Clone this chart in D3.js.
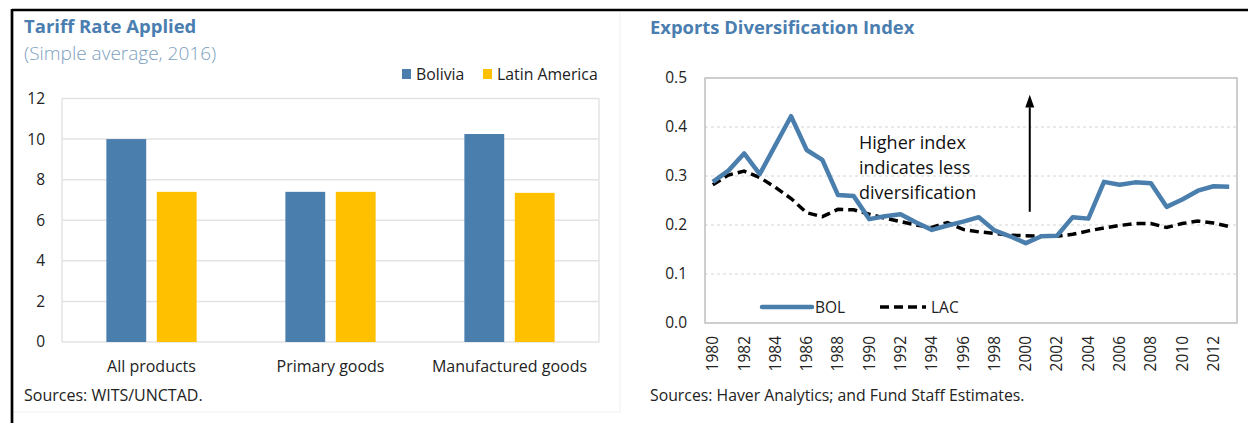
<!DOCTYPE html>
<html>
<head>
<meta charset="utf-8">
<script src="https://cdn.jsdelivr.net/npm/d3@7"></script>
<style>
  body { margin: 0; background: #fff; }
  text { font-family: "Open Sans", "Noto Sans", sans-serif; fill: #222; }
</style>
</head>
<body>
<script>
var width = 1248,
  height = 423;

// tariff chart data
var tariffCategories = ["All products", "Primary goods", "Manufactured goods"];
var tariffSeries = ["Bolivia", "Latin America"];
var boliviaTariff = [10.0, 7.4, 10.25];
var latamTariff = [7.4, 7.4, 7.35];
var tariffTicks = [0, 2, 4, 6, 8, 10, 12];

// diversification index data
var years = [1980, 1981, 1982, 1983, 1984, 1985, 1986, 1987, 1988, 1989,
  1990, 1991, 1992, 1993, 1994, 1995, 1996, 1997, 1998, 1999,
  2000, 2001, 2002, 2003, 2004, 2005, 2006, 2007, 2008, 2009,
  2010, 2011, 2012, 2013];
var bol = [0.288, 0.311, 0.346, 0.304, 0.363, 0.422, 0.353, 0.333, 0.261, 0.259,
  0.212, 0.218, 0.222, 0.205, 0.190, 0.199, 0.207, 0.216, 0.189, 0.177,
  0.163, 0.177, 0.178, 0.216, 0.213, 0.288, 0.282, 0.287, 0.285, 0.237,
  0.252, 0.270, 0.279, 0.278];
var lac = [0.282, 0.302, 0.310, 0.297, 0.277, 0.254, 0.225, 0.217, 0.232, 0.231,
  0.222, 0.214, 0.207, 0.200, 0.195, 0.205, 0.191, 0.186, 0.183, 0.179,
  0.178, 0.177, 0.177, 0.181, 0.188, 0.194, 0.199, 0.203, 0.203, 0.195,
  0.203, 0.208, 0.204, 0.197];
var indexTicks = [0, 0.1, 0.2, 0.3, 0.4, 0.5];
var yearTicks = [1980, 1982, 1984, 1986, 1988, 1990, 1992, 1994, 1996, 1998,
  2000, 2002, 2004, 2006, 2008, 2010, 2012];

var blue = "#4a7ead",
  yellow = "#ffc000",
  titleBlue = "#4a7eb0";

var svg = d3.select("body").append("svg")
  .attr("width", width)
  .attr("height", height);

// faint panel separators
svg.append("line").attr("x1", 620).attr("x2", 620).attr("y1", 12).attr("y2", 412)
  .attr("stroke", "#f0f0f0").attr("stroke-width", 1);
svg.append("line").attr("x1", 13).attr("x2", 620).attr("y1", 412).attr("y2", 412)
  .attr("stroke", "#f0f0f0").attr("stroke-width", 1);

// black frame (top + left)
svg.append("line").attr("x1", 12).attr("x2", width).attr("y1", 10).attr("y2", 10)
  .attr("stroke", "#000").attr("stroke-width", 2.7);
svg.append("line").attr("x1", 12).attr("x2", 12).attr("y1", 9).attr("y2", height)
  .attr("stroke", "#000").attr("stroke-width", 2.7);

// ---------- Left: Tariff Rate Applied ----------
var left = svg.append("g");

left.append("text")
  .attr("x", 24).attr("y", 33)
  .style("font-size", "18.5px").style("font-weight", "bold")
  .style("fill", titleBlue)
  .text("Tariff Rate Applied");
left.append("text")
  .attr("x", 24).attr("y", 60)
  .style("font-size", "19px").style("font-weight", 300)
  .style("fill", "#7d9fc0")
  .text("(Simple average, 2016)");

var x0 = d3.scaleBand()
  .domain(tariffCategories)
  .range([62, 599]);
var x1 = d3.scaleBand()
  .domain(tariffSeries)
  .range([0, x0.bandwidth()])
  .paddingInner(0.21)
  .paddingOuter(0.88);
var yT = d3.scaleLinear()
  .domain([0, 12])
  .range([342, 98.5]);

// gridlines
left.append("g")
  .selectAll("line")
  .data(tariffTicks)
  .enter().append("line")
  .attr("x1", 62).attr("x2", 599)
  .attr("y1", function (d) { return yT(d); })
  .attr("y2", function (d) { return yT(d); })
  .attr("stroke", "#e3e3e3").attr("stroke-width", 1.5);
left.append("line").attr("x1", 62).attr("x2", 62).attr("y1", yT(12)).attr("y2", yT(0))
  .attr("stroke", "#e3e3e3").attr("stroke-width", 1.5);
left.append("line").attr("x1", 599).attr("x2", 599).attr("y1", yT(12)).attr("y2", yT(0))
  .attr("stroke", "#e3e3e3").attr("stroke-width", 1.5);

// y tick labels
var yAxisL = d3.axisLeft(yT).tickValues(tariffTicks).tickSize(0).tickPadding(0);
left.append("g")
  .attr("transform", "translate(45,0)")
  .call(yAxisL)
  .call(function (g) { g.select(".domain").remove(); })
  .selectAll("text")
  .style("font-size", "15.5px")
  .style("font-family", "'Open Sans', sans-serif")
  .attr("fill", "#222");

// bars
var tariffRows = tariffCategories.map(function (c, i) {
  return { cat: c, values: [boliviaTariff[i], latamTariff[i]] };
});
var groups = left.append("g")
  .selectAll("g")
  .data(tariffRows)
  .enter().append("g")
  .attr("transform", function (d) { return "translate(" + x0(d.cat) + ",0)"; });
groups.selectAll("rect")
  .data(function (d) {
    return tariffSeries.map(function (s, j) { return { key: s, value: d.values[j] }; });
  })
  .enter().append("rect")
  .attr("x", function (d) { return x1(d.key); })
  .attr("width", x1.bandwidth())
  .attr("y", function (d) { return yT(d.value); })
  .attr("height", function (d) { return yT(0) - yT(d.value); })
  .attr("fill", function (d) { return d.key === "Bolivia" ? blue : yellow; });

// category labels
var xAxisL = d3.axisBottom(x0).tickSize(0).tickPadding(0);
left.append("g")
  .attr("transform", "translate(0,361)")
  .call(xAxisL)
  .call(function (g) { g.select(".domain").remove(); })
  .selectAll("text")
  .style("font-size", "16px")
  .style("font-family", "'Open Sans', sans-serif")
  .attr("fill", "#222");

// legend
var legL = left.append("g");
var legItems = [
  { name: "Bolivia", color: blue, x: 402 },
  { name: "Latin America", color: yellow, x: 483 }
];
legL.selectAll("rect")
  .data(legItems)
  .enter().append("rect")
  .attr("x", function (d) { return d.x; })
  .attr("y", 69).attr("width", 9).attr("height", 10)
  .attr("fill", function (d) { return d.color; });
legL.selectAll("text")
  .data(legItems)
  .enter().append("text")
  .attr("x", function (d) { return d.x + 14; })
  .attr("y", 80)
  .style("font-size", "15.8px")
  .text(function (d) { return d.name; });

left.append("text")
  .attr("x", 24).attr("y", 401)
  .style("font-size", "16px")
  .text("Sources: WITS/UNCTAD.");

// ---------- Right: Exports Diversification Index ----------
var right = svg.append("g");

right.append("text")
  .attr("x", 650).attr("y", 34)
  .style("font-size", "18.4px").style("font-weight", "bold")
  .style("fill", titleBlue)
  .text("Exports Diversification Index");

var xY = d3.scaleBand()
  .domain(years)
  .range([705, 1237]);
var yI = d3.scaleLinear()
  .domain([0, 0.5])
  .range([323, 78]);

// dashed gridlines
right.append("g")
  .selectAll("line")
  .data(indexTicks.slice(1, 5))
  .enter().append("line")
  .attr("x1", 705).attr("x2", 1237)
  .attr("y1", function (d) { return yI(d); })
  .attr("y2", function (d) { return yI(d); })
  .attr("stroke", "#d4d4d4").attr("stroke-width", 1)
  .attr("stroke-dasharray", "3,3");

// plot frame
right.append("rect")
  .attr("x", 705).attr("y", yI(0.5))
  .attr("width", 1237 - 705).attr("height", yI(0) - yI(0.5))
  .attr("fill", "none").attr("stroke", "#bfbfbf").attr("stroke-width", 1.5);

var yAxisR = d3.axisLeft(yI).tickValues(indexTicks).tickFormat(d3.format(".1f"))
  .tickSize(0).tickPadding(0);
right.append("g")
  .attr("transform", "translate(687,0)")
  .call(yAxisR)
  .call(function (g) { g.select(".domain").remove(); })
  .selectAll("text")
  .style("font-size", "15.5px")
  .style("font-family", "'Open Sans', sans-serif")
  .attr("fill", "#222");

var xAxisR = d3.axisBottom(xY).tickValues(yearTicks).tickSize(0).tickPadding(0);
right.append("g")
  .attr("transform", "translate(0,336)")
  .call(xAxisR)
  .call(function (g) { g.select(".domain").remove(); })
  .selectAll("text")
  .style("font-size", "15.5px")
  .style("font-family", "'Open Sans', sans-serif")
  .attr("fill", "#222")
  .attr("text-anchor", "end")
  .attr("dy", "0.35em")
  .attr("y", 0)
  .attr("transform", "rotate(-90)");

function cx(d) { return xY(d) + xY.bandwidth() / 2; }

var lineBol = d3.line()
  .x(function (d, i) { return cx(years[i]); })
  .y(function (d) { return yI(d); });

right.append("path")
  .datum(lac)
  .attr("d", lineBol)
  .attr("fill", "none")
  .attr("stroke", "#000")
  .attr("stroke-width", 3.5)
  .attr("stroke-dasharray", "9,5");

right.append("path")
  .datum(bol)
  .attr("d", lineBol)
  .attr("fill", "none")
  .attr("stroke", blue)
  .attr("stroke-width", 4.5)
  .attr("stroke-linejoin", "round");

// annotation
var note = ["Higher index", "indicates less", "diversification"];
right.append("g")
  .selectAll("text")
  .data(note)
  .enter().append("text")
  .attr("x", 859)
  .attr("y", function (d, i) { return 149 + i * 25; })
  .style("font-size", "18px")
  .style("fill", "#111")
  .text(function (d) { return d; });

var ax = cx(2000) + 4;
right.append("line")
  .attr("x1", ax).attr("x2", ax)
  .attr("y1", yI(0.227)).attr("y2", yI(0.44))
  .attr("stroke", "#000").attr("stroke-width", 2);
right.append("path")
  .attr("d", "M" + (ax - 4.5) + "," + yI(0.44) + "L" + ax + "," + yI(0.466) + "L" + (ax + 4.5) + "," + yI(0.44) + "Z")
  .attr("fill", "#000");

// legend
right.append("line")
  .attr("x1", 762).attr("x2", 812).attr("y1", 307).attr("y2", 307)
  .attr("stroke", blue).attr("stroke-width", 4.5).attr("stroke-linecap", "round");
right.append("text").attr("x", 815).attr("y", 312.5).style("font-size", "15.5px").text("BOL");
right.append("line")
  .attr("x1", 880).attr("x2", 926).attr("y1", 307).attr("y2", 307)
  .attr("stroke", "#000").attr("stroke-width", 3.5).attr("stroke-dasharray", "9,5");
right.append("text").attr("x", 931).attr("y", 312.5).style("font-size", "15.5px").text("LAC");

right.append("text")
  .attr("x", 650).attr("y", 401)
  .style("font-size", "15.8px")
  .text("Sources: Haver Analytics; and Fund Staff Estimates.");
</script>
</body>
</html>
